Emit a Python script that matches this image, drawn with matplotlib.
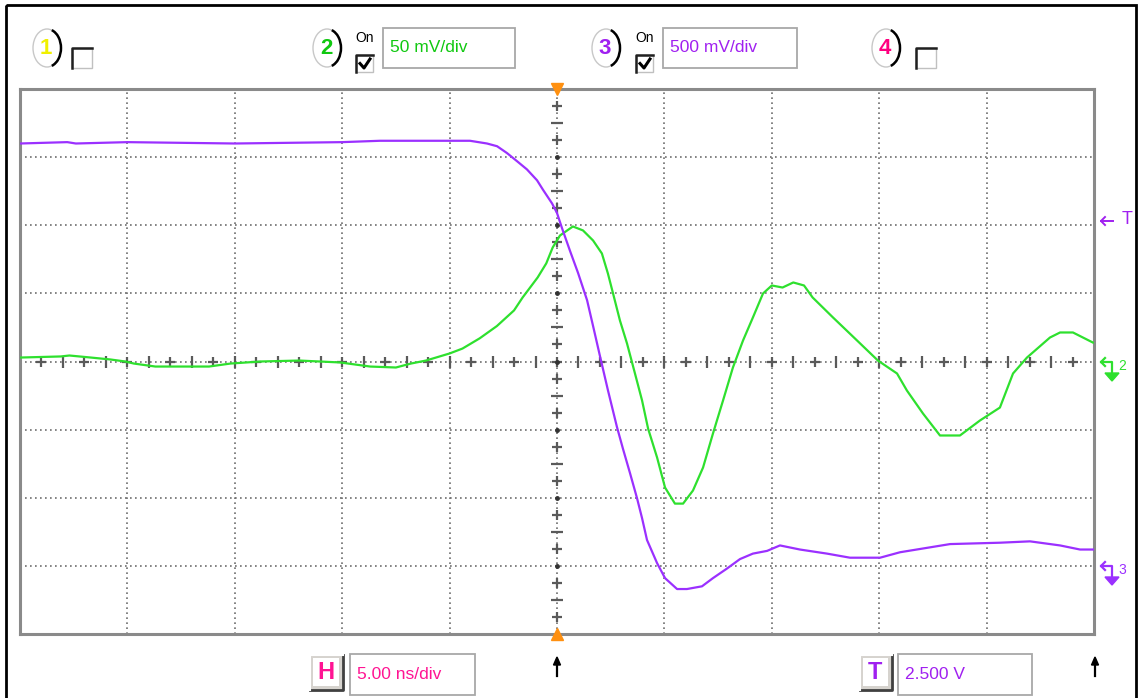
import numpy as np
import matplotlib
matplotlib.use("Agg")
import matplotlib.pyplot as plt
from matplotlib.patches import Rectangle, Ellipse, Arc, Polygon

plt.rcParams['font.family'] = ['Liberation Sans', 'DejaVu Sans']

# Channel 2 (green), time in ns, voltage in mV, 50 mV/div, ground at centre
ch2_t = [-25.0, -23.1, -22.7, -21.7, -20.8, -20.1, -19.7, -18.7, -16.2, -15.2,
         -13.8, -12.0, -10.1, -8.7, -7.5, -6.8, -6.1, -5.0, -4.4, -3.6,
         -2.8, -2.0, -1.6, -0.9, -0.5, -0.2, 0.14, 0.74, 1.21, 1.68,
         2.09, 2.37, 2.61, 2.93, 3.26, 3.63, 3.96, 4.24, 4.66, 5.03,
         5.49, 5.87, 6.33, 6.80, 7.26, 7.73, 8.19, 8.66, 9.12, 9.59,
         10.0, 10.5, 11.0, 11.5, 11.9, 12.85, 13.97, 14.94, 15.83, 16.29,
         17.04, 17.83, 18.76, 19.69, 20.62, 21.23, 21.88, 22.95, 23.42, 24.02, 24.95]
ch2_mv = [2.9, 3.7, 4.4, 2.9, 1.5, 0.0, -1.5, -3.7, -3.7, -1.5,
          0.0, 0.7, -0.7, -3.7, -4.4, -1.5, 0.7, 5.9, 9.5, 17.0,
          26.0, 37.5, 47.0, 61.7, 72.0, 83.7, 92.5, 99.1, 96.2, 88.8,
          79.3, 64.6, 49.9, 30.1, 13.2, -8.8, -28.6, -49.2, -70.5, -92.5,
          -104.3, -104.3, -94.7, -77.8, -52.9, -28.6, -4.4, 15.4, 32.3, 49.9,
          55.8, 54.3, 58.0, 55.8, 47.0, 32.3, 15.4, 0.7, -8.8, -21.3,
          -38.2, -54.3, -54.3, -43.3, -33.8, -8.8, 2.9, 17.6, 21.3, 21.3, 13.9]

# Channel 3 (purple), time in ns, voltage in V, 500 mV/div, ground 3 div below centre
ch3_t = [-25.0, -22.8, -22.4, -20.0, -15.0, -10.0, -8.24, -7.31, -4.05, -3.26,
         -2.79, -2.33, -1.86, -1.40, -0.93, -0.65, -0.23, 0.0, 0.23, 0.61,
         0.98, 1.40, 1.68, 2.0, 2.37, 2.79, 3.07, 3.40, 3.72, 3.96,
         4.19, 4.66, 5.03, 5.59, 6.05, 6.75, 7.26, 7.91, 8.52, 9.12,
         9.78, 10.38, 11.31, 12.57, 13.64, 15.04, 15.97, 18.30, 20.62, 22.02,
         23.42, 24.35, 25.0]
ch3_v = [3.10, 3.11, 3.10, 3.11, 3.10, 3.11, 3.12, 3.12, 3.12, 3.10,
         3.08, 3.03, 2.97, 2.91, 2.83, 2.76, 2.66, 2.59, 2.48, 2.31,
         2.15, 1.95, 1.76, 1.54, 1.29, 1.02, 0.86, 0.68, 0.50, 0.35,
         0.19, 0.02, -0.09, -0.17, -0.17, -0.15, -0.09, -0.02, 0.05, 0.09,
         0.11, 0.15, 0.12, 0.09, 0.06, 0.06, 0.10, 0.16, 0.17, 0.18,
         0.15, 0.12, 0.12]

ch2_scale = 0.050e3   # mV per div
ch3_scale = 0.5       # V per div
ch3_offset = -3       # div
time_per_div = 5.0    # ns

GREEN = '#2ee02e'
PURPLE = '#9b30ff'
TXT_GREEN = '#10c810'
TXT_PURPLE = '#a020f0'
MAGENTA = '#ff1493'

W, H = 1141, 698
fig = plt.figure(figsize=(W / 100, H / 100), dpi=100)

# overlay axes in pixel coordinates for the instrument frame
ov = fig.add_axes([0, 0, 1, 1])
ov.set_xlim(0, W)
ov.set_ylim(H, 0)
ov.axis('off')

ov.add_patch(Rectangle((6, 5), 1130, 700, fill=False, edgecolor='black', lw=2))


def badge(cx, num, color):
    ov.add_patch(Ellipse((cx, 48), 28, 38, facecolor='white', edgecolor='#c8c8c8', lw=1))
    ov.add_patch(Arc((cx, 48), 28, 38, theta1=-75, theta2=75, color='black', lw=1.8))
    ov.text(cx - 1, 49, num, color=color, fontsize=16, fontweight='bold', ha='center', va='center')


def checkbox(x, y, size, checked=False):
    ov.add_patch(Rectangle((x, y), size, size, facecolor='white', edgecolor='#c0c0c0', lw=1))
    ov.plot([x, x, x + size], [y + size, y, y], color='#202020', lw=1.8)
    if checked:
        ov.plot([x + 4, x + 8, x + size - 3], [y + size / 2, y + size - 4, y + 4], color='black', lw=2.2)


def valuebox(x0, x1, y0, y1, text, color):
    ov.add_patch(Rectangle((x0, y0), x1 - x0, y1 - y0, facecolor='white', edgecolor='#a8a8a8', lw=1.3))
    ov.text(x0 + 7, (y0 + y1) / 2, text, color=color, fontsize=12.5, ha='left', va='center')


def button(x0, x1, y0, y1, letter, color):
    ov.add_patch(Rectangle((x0, y0), x1 - x0, y1 - y0, facecolor='#d6d3ce', edgecolor='none'))
    ov.plot([x0, x1, x1], [y1, y1, y0], color='#404040', lw=2)
    ov.plot([x0, x0, x1], [y1, y0, y0], color='white', lw=1.5)
    ov.add_patch(Rectangle((x0 + 3, y0 + 3), x1 - x0 - 7, y1 - y0 - 7, facecolor='white', edgecolor='none'))
    ov.text((x0 + x1) / 2 - 1, (y0 + y1) / 2, letter, color=color, fontsize=17, fontweight='bold',
            ha='center', va='center')


def up_arrow(x):
    ov.plot([x, x], [660, 676], color='black', lw=1.6)
    ov.add_patch(Polygon([[x - 3.5, 665], [x + 3.5, 665], [x, 657]], closed=True, color='black'))


# top channel bar
badge(47, '1', '#f0f000')
checkbox(72, 48, 20)
badge(327, '2', TXT_GREEN)
ov.text(365, 38, 'On', fontsize=10, ha='center', va='center', color='black')
checkbox(356, 55, 17, checked=True)
valuebox(383, 515, 28, 68, '50 mV/div', TXT_GREEN)
badge(606, '3', TXT_PURPLE)
ov.text(645, 38, 'On', fontsize=10, ha='center', va='center', color='black')
checkbox(636, 55, 17, checked=True)
valuebox(663, 797, 28, 68, '500 mV/div', TXT_PURPLE)
badge(886, '4', '#ff0080')
checkbox(916, 48, 20)

# bottom bar
button(310, 343, 655, 690, 'H', MAGENTA)
valuebox(350, 475, 654, 695, '5.00 ns/div', MAGENTA)
up_arrow(557)
button(860, 892, 655, 690, 'T', TXT_PURPLE)
valuebox(898, 1032, 654, 695, '2.500 V', TXT_PURPLE)
up_arrow(1095)

# right side level markers
ov.plot([1101, 1113], [221, 221], color=TXT_PURPLE, lw=1.4)
ov.plot([1105, 1101, 1105], [217, 221, 225], color=TXT_PURPLE, lw=1.4)
ov.text(1127, 220, 'T', fontsize=13, ha='center', va='center', color=TXT_PURPLE)


def level_marker(y, num, color):
    ov.plot([1101, 1112, 1112], [y, y, y + 12], color=color, lw=1.6)
    ov.plot([1105, 1101, 1105], [y - 4, y, y + 4], color=color, lw=1.6)
    ov.add_patch(Polygon([[1105, y + 11], [1119, y + 11], [1112, y + 19]], closed=True, color=color))
    ov.text(1118, y + 4, num, fontsize=10, ha='left', va='center', color=color)


level_marker(362, '2', GREEN)
level_marker(566, '3', PURPLE)

# scope screen
L, R, T, B = 20, 1094, 89, 634
ax = fig.add_axes([L / W, 1 - B / H, (R - L) / W, (B - T) / H])
ax.set_xlim(-5 * time_per_div, 5 * time_per_div)
ax.set_ylim(-4, 4)
ax.set_xticks([])
ax.set_yticks([])
for s in ax.spines.values():
    s.set_color('#8a8a8a')
    s.set_linewidth(2.2)

dot = (0, (1, 2))
for gx in np.arange(-4, 5) * time_per_div:
    ax.axvline(gx, color='#6e6e6e', lw=1.2, ls=dot, zorder=1)
for gy in range(-3, 4):
    ax.axhline(gy, color='#6e6e6e', lw=1.2, ls=dot, zorder=1)

# minor ticks on the centre lines
hx = np.arange(-24, 25, 1.0)
for i, xv in enumerate(hx):
    m = '+' if i % 2 == 0 else '|'
    ax.plot(xv, 0, marker=m, ms=8 if m == '|' else 7, mew=1.6, color='#5a5a5a', zorder=2)
vy = np.arange(-3.75, 4.0, 0.25)
for i, yv in enumerate(vy):
    if abs(yv - round(yv)) < 1e-6:
        ax.plot(0, yv, marker='o', ms=2.5, color='#333333', zorder=2)
        continue
    m = '+' if i % 2 == 0 else '_'
    ax.plot(0, yv, marker=m, ms=8 if m == '_' else 7, mew=1.6, color='#5a5a5a', zorder=2)

ax.plot(ch2_t, np.array(ch2_mv) / ch2_scale, color=GREEN, lw=1.6, zorder=3)
ax.plot(ch3_t, np.array(ch3_v) / ch3_scale + ch3_offset, color=PURPLE, lw=1.6, zorder=4)

# trigger position markers
ax.plot(0, 4, marker='v', ms=9, color='#ff9010', clip_on=False, zorder=5)
ax.plot(0, -4, marker='^', ms=9, color='#ff9010', clip_on=False, zorder=5)

fig.savefig('out.png', dpi=100)
